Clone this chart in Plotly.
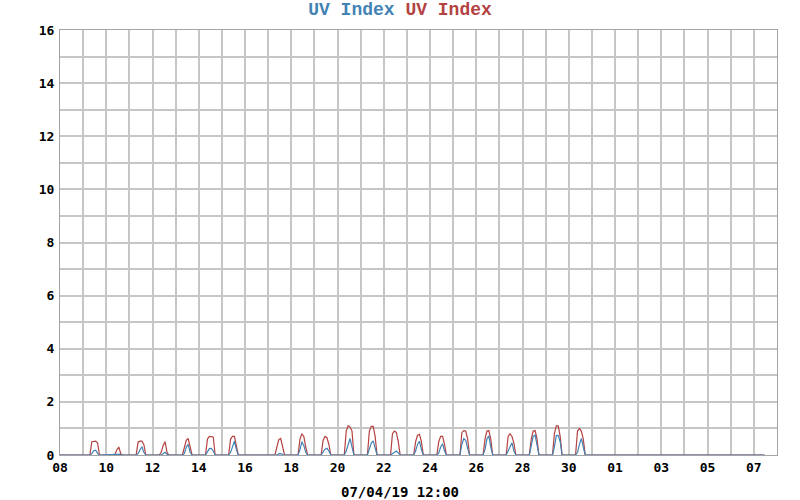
import pandas as pd
import plotly.graph_objects as go

# sample hours used for each day's reading
hours = [7, 9, 11, 13, 15, 17]

uv_days = ['2019-03-09', '2019-03-10', '2019-03-11', '2019-03-12', '2019-03-13',
           '2019-03-14', '2019-03-15', '2019-03-17', '2019-03-18', '2019-03-19',
           '2019-03-20', '2019-03-21', '2019-03-22', '2019-03-23', '2019-03-24',
           '2019-03-25', '2019-03-26', '2019-03-27', '2019-03-28', '2019-03-29',
           '2019-03-30']

red_values = [
    [0, 0.50, 0.52, 0.52, 0.45, 0],
    [0, 0.02, 0.20, 0.30, 0.05, 0],
    [0, 0.48, 0.52, 0.52, 0.40, 0],
    [0, 0.10, 0.35, 0.50, 0.10, 0],
    [0, 0.30, 0.55, 0.62, 0.30, 0],
    [0, 0.60, 0.70, 0.70, 0.68, 0],
    [0, 0.60, 0.70, 0.70, 0.40, 0],
    [0, 0.30, 0.58, 0.62, 0.30, 0],
    [0, 0.60, 0.80, 0.70, 0.30, 0],
    [0, 0.55, 0.70, 0.65, 0.40, 0],
    [0, 0.90, 1.10, 1.05, 0.90, 0],
    [0, 0.90, 1.08, 1.08, 0.70, 0],
    [0, 0.80, 0.90, 0.85, 0.50, 0],
    [0, 0.50, 0.75, 0.78, 0.50, 0],
    [0, 0.50, 0.70, 0.70, 0.40, 0],
    [0, 0.85, 0.92, 0.90, 0.60, 0],
    [0, 0.60, 0.90, 0.92, 0.60, 0],
    [0, 0.70, 0.80, 0.70, 0.45, 0],
    [0, 0.60, 0.90, 0.92, 0.60, 0],
    [0, 0.80, 1.10, 1.10, 0.70, 0],
    [0, 0.90, 1.00, 0.90, 0.60, 0],
]

blue_values = [
    [0, 0.05, 0.16, 0.18, 0.06, 0],
    [0, 0.00, 0.02, 0.03, 0.00, 0],
    [0, 0.05, 0.20, 0.31, 0.10, 0],
    [0, 0.00, 0.05, 0.10, 0.03, 0],
    [0, 0.05, 0.30, 0.40, 0.10, 0],
    [0, 0.10, 0.24, 0.25, 0.15, 0],
    [0, 0.10, 0.35, 0.52, 0.20, 0],
    [0, 0.00, 0.04, 0.05, 0.02, 0],
    [0, 0.20, 0.50, 0.35, 0.10, 0],
    [0, 0.10, 0.22, 0.25, 0.15, 0],
    [0, 0.15, 0.40, 0.62, 0.30, 0],
    [0, 0.20, 0.45, 0.53, 0.30, 0],
    [0, 0.05, 0.13, 0.15, 0.08, 0],
    [0, 0.15, 0.40, 0.52, 0.20, 0],
    [0, 0.08, 0.30, 0.42, 0.15, 0],
    [0, 0.40, 0.62, 0.55, 0.25, 0],
    [0, 0.20, 0.60, 0.72, 0.30, 0],
    [0, 0.15, 0.35, 0.46, 0.15, 0],
    [0, 0.35, 0.70, 0.75, 0.40, 0],
    [0, 0.30, 0.73, 0.74, 0.50, 0],
    [0, 0.10, 0.40, 0.62, 0.30, 0],
]

start_time = '2019-03-08 00:00'
end_time = '2019-04-07 11:00'
stamp = '07/04/19 12:00'

RED = '#b44242'
BLUE = '#4282b4'
GRID = '#c6c6c6'
FRAME = '#a4a4a4'


def build_series(values):
    t = [pd.Timestamp(start_time)]
    v = [0]
    for day, row in zip(uv_days, values):
        for h, val in zip(hours, row):
            t.append(pd.Timestamp(day) + pd.Timedelta(hours=h))
            v.append(val)
    t.append(pd.Timestamp(end_time))
    v.append(0)
    return t, v


red_t, red_v = build_series(red_values)
blue_t, blue_v = build_series(blue_values)

fig = go.Figure()
fig.add_trace(go.Scatter(x=red_t, y=red_v, mode='lines', name='UV Index',
                         line=dict(color=RED, width=1.2)))
fig.add_trace(go.Scatter(x=blue_t, y=blue_v, mode='lines', name='UV Index',
                         line=dict(color=BLUE, width=1.2)))

day_ms = 86400000
tick_font = dict(family='DejaVu Sans Mono', size=13, color='#000000', weight='bold')

fig.update_layout(
    width=800,
    height=500,
    margin=dict(l=60, r=23, t=30, b=45),
    paper_bgcolor='white',
    plot_bgcolor='white',
    showlegend=False,
    title=dict(
        text=f"<span style='color:{BLUE}'>UV Index</span> "
             f"<span style='color:{RED}'>UV Index</span>",
        font=dict(family='Liberation Mono', size=18, weight='bold'),
        xref='container', x=0.5, xanchor='center',
        yref='container', y=0.982, yanchor='middle',
    ),
    xaxis=dict(
        type='date',
        range=['2019-03-08', '2019-04-08'],
        tick0='2019-03-08',
        dtick=2 * day_ms,
        tickformat='%d',
        tickfont=tick_font,
        showgrid=True, gridcolor=GRID, gridwidth=2,
        minor=dict(dtick=day_ms, showgrid=True, gridcolor=GRID, gridwidth=2),
        showline=True, linecolor=FRAME, linewidth=1, mirror=True,
        zeroline=False, ticks='', layer='below traces',
    ),
    yaxis=dict(
        range=[0, 16],
        dtick=2,
        tickfont=tick_font,
        ticklabelstandoff=2,
        showgrid=True, gridcolor=GRID, gridwidth=2,
        minor=dict(dtick=1, showgrid=True, gridcolor=GRID, gridwidth=2),
        showline=True, linecolor=FRAME, linewidth=1, mirror=True,
        zeroline=False, ticks='', layer='below traces',
    ),
    annotations=[dict(
        text=stamp, showarrow=False,
        xref='paper', x=(400 - 60) / 717, xanchor='center',
        yref='paper', y=-37 / 425, yanchor='middle',
        font=dict(family='DejaVu Sans Mono', size=14, color='#000000', weight='bold'),
    )],
)

# drop the browser's default page margin so the figure sits at (0, 0)
fig.write_html('out.html', config={'displayModeBar': False},
               post_script="document.body.style.margin='0';")
